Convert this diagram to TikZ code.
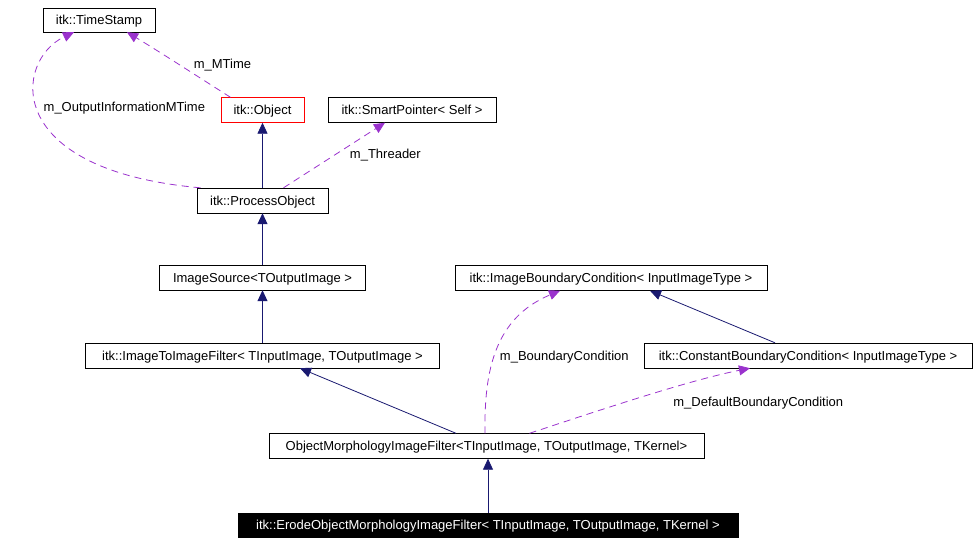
\documentclass[tikz,border=0pt]{standalone}
\usepackage{fontspec}
\setmainfont{Liberation Sans}
\usetikzlibrary{shapes,arrows.meta}
\definecolor{edgeblue}{RGB}{25,25,112}
\definecolor{edgeviolet}{RGB}{154,50,205}
\tikzstyle{block} = [rectangle, draw, inner sep=0pt, text height=10pt, text depth=1pt,
    text centered, minimum height=25pt, font=\fontsize{13}{15}\selectfont]
\tikzstyle{inherit} = [draw, edgeblue, line width=0.8pt, -{Triangle[length=11pt,width=10pt]}]
\tikzstyle{member} = [draw, edgeviolet, line width=0.8pt, dash pattern=on 7pt off 5pt,
    -{Triangle[length=11pt,width=10pt]}]

\begin{document}
\begin{tikzpicture}[x=1pt, y=-1pt, every node/.style={text=black, font=\fontsize{13}{15}\selectfont}]
\useasboundingbox (0,0) rectangle (977,541);
\node [block, minimum width=112pt, minimum height=24pt] at (99,20) (stamp) {itk::TimeStamp};
\node [block, draw=red, minimum width=83pt] at (262.5,110) (object) {itk::Object};
\node [block, minimum width=168pt] at (412,110) (pointer) {itk::SmartPointer< Self >};
\node [block, minimum width=131pt] at (262.5,200.5) (process) {itk::ProcessObject};
\node [block, minimum width=206pt] at (262.5,277.5) (source) {ImageSource<TOutputImage >};
\node [block, minimum width=312pt] at (611,278) (boundary) {itk::ImageBoundaryCondition< InputImageType >};
\node [block, minimum width=354pt] at (262.5,355.5) (filter) {itk::ImageToImageFilter< TInputImage, TOutputImage >};
\node [block, minimum width=328pt] at (808,355.5) (constant) {itk::ConstantBoundaryCondition< InputImageType >};
\node [block, minimum width=435pt] at (486.5,446) (morph) {ObjectMorphologyImageFilter<TInputImage, TOutputImage, TKernel>};
\node [block, fill=black, text=white, minimum width=500pt, minimum height=24pt] at (488,525) (erode) {itk::ErodeObjectMorphologyImageFilter< TInputImage, TOutputImage, TKernel >};

% inheritance
\draw [inherit] (process.north) -- (object.south);
\draw [inherit] (source.north) -- (process.south);
\draw [inherit] (filter.north) -- (source.south);
\draw [inherit] ([xshift=-30.5pt] morph.north) -- ([xshift=37.5pt] filter.south);
\draw [inherit] (erode.north) -- (morph.south -| erode.north);
\draw [inherit] ([xshift=-33pt] constant.north) -- ([xshift=39pt] boundary.south);

% members
\draw [member] ([xshift=-32pt] object.north) .. controls (200,78) and (160,52) .. node[pos=0.45, anchor=west, xshift=5pt, yshift=3pt] {m\_MTime} ([xshift=28pt] stamp.south);
\draw [member] ([xshift=-62pt] process.north) .. controls (0,170) and (15,60) .. node[pos=0.5, anchor=west, yshift=6pt] {m\_OutputInformationMTime} ([xshift=-25pt] stamp.south);
\draw [member] ([xshift=21pt] process.north) -- node[pos=0.5, anchor=west, xshift=12pt] {m\_Threader} ([xshift=-27pt] pointer.south);
\draw [member] ([xshift=-1.5pt] morph.north) .. controls (484,370) and (495,318) .. node[pos=0.4, anchor=west, xshift=4pt, yshift=6pt] {m\_BoundaryCondition} ([xshift=-51pt] boundary.south);
\draw [member] ([xshift=43pt] morph.north) .. controls (600,410) and (690,380) .. node[pos=0.72, anchor=north west, xshift=-24pt, yshift=-11pt] {m\_DefaultBoundaryCondition} ([xshift=-58pt] constant.south);
\end{tikzpicture}
\end{document}
